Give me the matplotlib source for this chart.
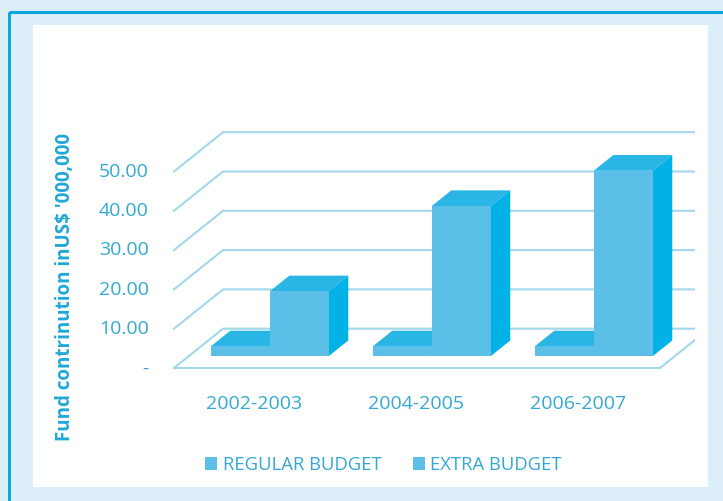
import matplotlib
matplotlib.use('Agg')
import matplotlib.pyplot as plt
from matplotlib.patches import Polygon, Rectangle, Patch

periods = ['2002-2003', '2004-2005', '2006-2007']
regular_budget = [2.5, 2.5, 2.5]
extra_budget = [16.5, 38.2, 47.2]
y_ticks = [0, 10, 20, 30, 40, 50]
y_tick_labels = ['-', '10.00', '20.00', '30.00', '40.00', '50.00']

W, H = 723, 501
TEXT = '#34A8D2'
LABEL = '#1FA6D8'
GRID = '#A3D7EB'
FRONT = '#5BBFE8'
TOP = '#2AB6E4'
SIDE = '#02B1E5'

plt.rcParams['font.family'] = ['Open Sans', 'DejaVu Sans']

fig = plt.figure(figsize=(W / 100, H / 100), dpi=100, facecolor='#DCEFF9')

# outer frame and white panel, in pixels from the top left
bg = fig.add_axes([0, 0, 1, 1])
bg.set_xlim(0, W)
bg.set_ylim(H, 0)
bg.axis('off')
bg.add_patch(Rectangle((8.5, 11.5), W, H, fill=False, ec='#0AA7DE', lw=2.2))
bg.add_patch(Rectangle((33, 25), 675, 462, fc='white', ec='none'))

# plot axes: x in category units (162 px each), y in value units (3.93 px each)
PX_X, PX_Y = 162.0, 3.93
LEFT, RIGHT, BOTTOM, TOP_PX = 160, 695, 380, 100
X0, Y0 = 174, 368
ax = fig.add_axes([LEFT / W, 1 - BOTTOM / H, (RIGHT - LEFT) / W, (BOTTOM - TOP_PX) / H])
ax.set_xlim((LEFT - X0) / PX_X, (RIGHT - X0) / PX_X)
ax.set_ylim((Y0 - BOTTOM) / PX_Y, (Y0 - TOP_PX) / PX_Y)
ax.axis('off')

# oblique projection of the chart depth (0 front, 1 back wall)
DEPTH_X = 49 / PX_X
DEPTH_Y = 39.3 / PX_Y


def proj(x, v, d):
    return (x + d * DEPTH_X, v + d * DEPTH_Y)


def draw_box(x0, x1, v, d0, d1, front=FRONT, top=TOP, side=SIDE, z=3):
    ax.add_patch(Polygon([proj(x0, v, d0), proj(x1, v, d0), proj(x1, v, d1), proj(x0, v, d1)],
                         fc=top, ec='none', zorder=z))
    ax.add_patch(Polygon([proj(x1, 0, d0), proj(x1, 0, d1), proj(x1, v, d1), proj(x1, v, d0)],
                         fc=side, ec='none', zorder=z))
    ax.add_patch(Polygon([proj(x0, 0, d0), proj(x1, 0, d0), proj(x1, v, d0), proj(x0, v, d0)],
                         fc=front, ec='none', zorder=z + 0.1))


# grid lines on the back wall and the left side, floor outline
n = len(periods)
for v in y_ticks:
    xs, ys = zip(proj(0, v, 0), proj(0, v, 1), proj(n, v, 1))
    ax.plot(xs, ys, color=GRID, lw=1.5, zorder=1, solid_joinstyle='miter')
xs, ys = zip(proj(0, 0, 0), proj(n, 0, 0), proj(n, 0, 1))
ax.plot(xs, ys, color=GRID, lw=1.5, zorder=1, solid_joinstyle='miter')

bar_w = 0.364
offset = 0.136
for i in range(n):
    draw_box(i + offset, i + offset + bar_w, regular_budget[i], 0.3, 0.7, z=3)
    draw_box(i + offset + bar_w, i + offset + 2 * bar_w, extra_budget[i], 0.3, 0.7, z=4)
    ax.text(i + 0.494, -9.1, periods[i], color=TEXT, fontsize=14, ha='center', va='center',
            clip_on=False)

for v, lab in zip(y_ticks, y_tick_labels):
    ax.text(-0.155, v - 0.1, lab, color=TEXT, fontsize=14, ha='right', va='center', clip_on=False)

fig.text(65.5 / W, 1 - 287 / H, "Fund contrinution inUS$ '000,000", color=LABEL, fontsize=13.5,
         fontweight='bold', rotation=90, ha='center', va='center')

handles = [Patch(fc=FRONT, ec='none'), Patch(fc=FRONT, ec='none')]
fig.legend(handles, ['REGULAR BUDGET', 'EXTRA BUDGET'], ncols=2, frameon=False,
           loc='center', bbox_to_anchor=(383.5 / W, 1 - 465 / H), fontsize=13.3, labelcolor=TEXT,
           handlelength=0.65, handleheight=0.65, handletextpad=0.3, columnspacing=1.7)

fig.savefig('out.png', dpi=100, facecolor=fig.get_facecolor())
